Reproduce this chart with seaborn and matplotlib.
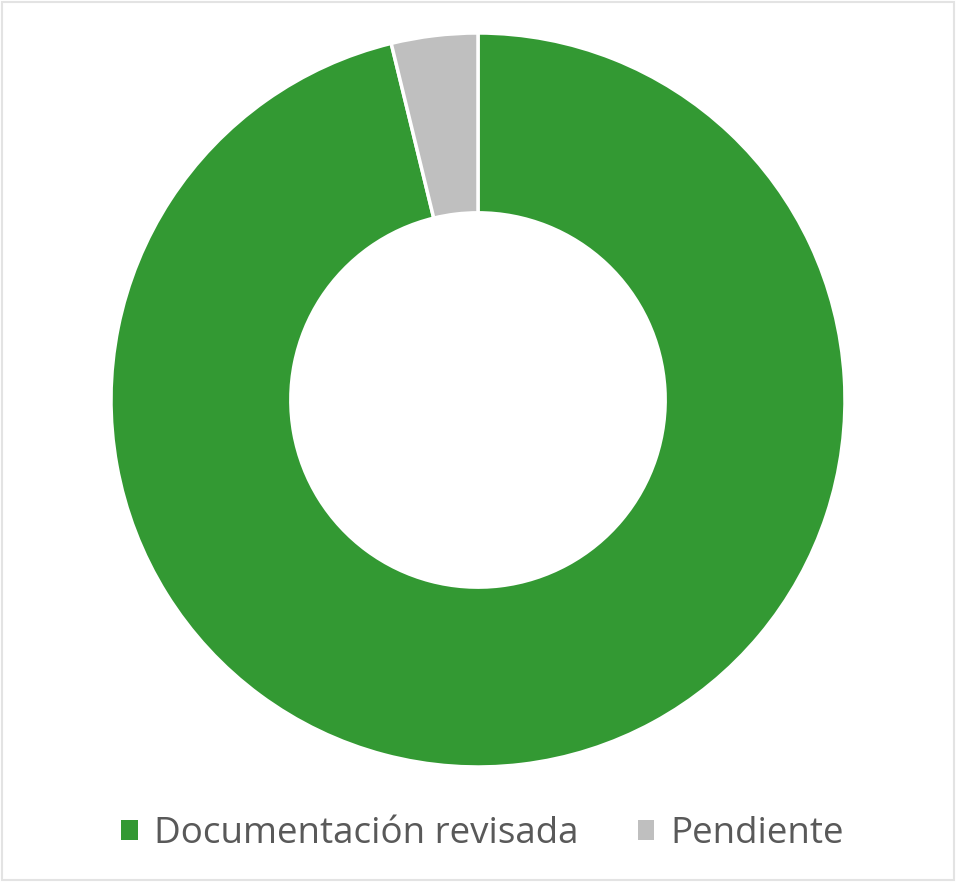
import matplotlib
matplotlib.use('Agg')
import matplotlib.pyplot as plt
from matplotlib.patches import Patch, Rectangle
import seaborn as sns

labels = ['Documentación revisada', 'Pendiente']
values = [96.2, 3.8]
colors = ['#339933', '#BFBFBF']

sns.set_theme(style="white")
plt.rcParams['font.family'] = ['Open Sans', 'DejaVu Sans']

fig = plt.figure(figsize=(9.56, 8.82), dpi=100)
ax = fig.add_axes([0.1161, 0.1304, 0.7678, 0.8322])

ax.pie(values, colors=colors, startangle=90, counterclock=False,
       radius=1, wedgeprops=dict(width=0.49, edgecolor='white', linewidth=2.5))
ax.set_xlim(-1, 1)
ax.set_ylim(-1, 1)
ax.set_aspect('equal')
ax.axis('off')

handles = [Patch(facecolor=c, edgecolor='none', label=l) for c, l in zip(colors, labels)]
leg = fig.legend(handles=handles, loc='center', bbox_to_anchor=(0.505, 0.054), ncol=2,
                 frameon=False, fontsize=26.5, handlelength=0.45, handleheight=0.45,
                 handletextpad=0.45, columnspacing=1.6)
for t in leg.get_texts():
    t.set_color('#595959')

# thin light border around the chart area
fig.patches.append(Rectangle((0.002, 0.002), 0.996, 0.996, transform=fig.transFigure,
                             fill=False, edgecolor='#E3E3E3', linewidth=1.5))

fig.savefig('out.png', dpi=100, facecolor='white')
plt.close(fig)
